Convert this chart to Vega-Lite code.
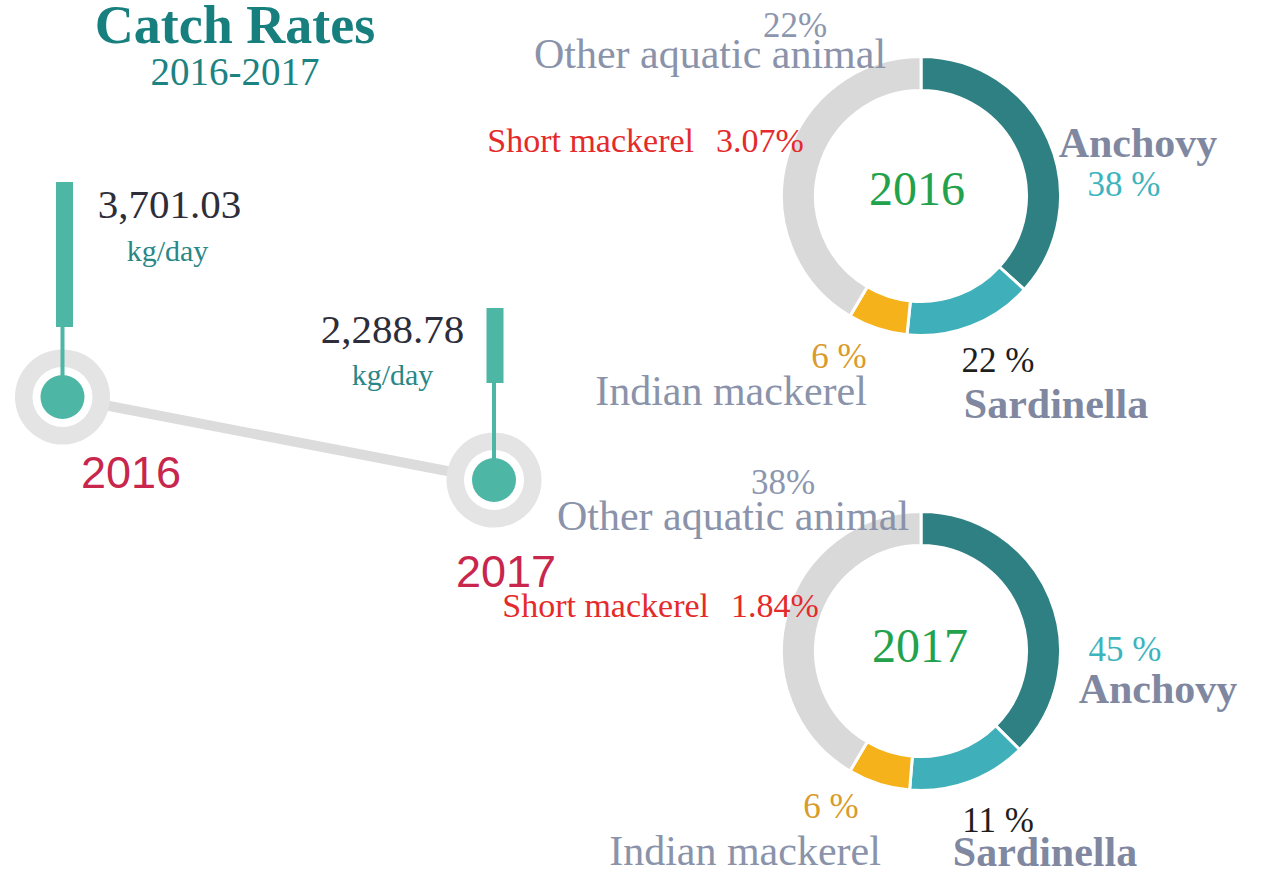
{
  "$schema": "https://vega.github.io/schema/vega-lite/v6.json",
  "background": "white",
  "padding": 0,
  "bounds": "flush",
  "spacing": 111,
  "config": {"view": {"stroke": null}},
  "datasets": {
    "rates": [
      {"year": 2016, "rate": 3701.03, "unit": "kg/day"},
      {"year": 2017, "rate": 2288.78, "unit": "kg/day"}
    ],
    "catch": [
      {"year": 2016, "rank": 1, "species": "Anchovy", "share": 36.7, "pct": "38 %"},
      {"year": 2016, "rank": 2, "species": "Sardinella", "share": 14.9, "pct": "22 %"},
      {"year": 2016, "rank": 3, "species": "Indian  mackerel", "share": 6.9, "pct": "6 %"},
      {"year": 2016, "rank": 4, "species": "Other aquatic animal", "share": 41.5, "pct": "22%"},
      {"year": 2016, "rank": 5, "species": "Short mackerel", "share": null, "pct": "3.07%"},
      {"year": 2017, "rank": 1, "species": "Anchovy", "share": 37.5, "pct": "45 %"},
      {"year": 2017, "rank": 2, "species": "Sardinella", "share": 13.8, "pct": "11 %"},
      {"year": 2017, "rank": 3, "species": "Indian  mackerel", "share": 7.2, "pct": "6 %"},
      {"year": 2017, "rank": 4, "species": "Other aquatic animal", "share": 41.5, "pct": "38%"},
      {"year": 2017, "rank": 5, "species": "Short mackerel", "share": null, "pct": "1.84%"}
    ]
  },
  "hconcat": [
    {
      "width": 470,
      "height": 776,
      "title": {
        "text": "Catch Rates",
        "subtitle": "2016-2017",
        "anchor": "middle",
        "font": "Liberation Serif",
        "fontSize": 54,
        "fontWeight": "bold",
        "color": "#177f7e",
        "subtitleFont": "Liberation Serif",
        "subtitleFontSize": 39,
        "subtitleColor": "#1c8383",
        "subtitlePadding": 0,
        "offset": 7
      },
      "data": {"name": "rates"},
      "resolve": {"scale": {"x": "independent", "y": "independent", "size": "independent"}},
      "layer": [
        {
          "mark": {"type": "line", "color": "#dcdcdc", "strokeWidth": 10},
          "encoding": {
            "x": {"field": "year", "type": "quantitative", "scale": {"domain": [2015.85516, 2016.94438], "nice": false, "zero": false}, "axis": null},
            "y": {"field": "rate", "type": "quantitative", "scale": {"domain": [-4449.3, 8754.5], "nice": false, "zero": false}, "axis": null}
          }
        },
        {
          "mark": {"type": "point", "shape": "circle", "filled": true, "color": "#e4e4e4", "opacity": 1, "size": 9025},
          "encoding": {
            "x": {"field": "year", "type": "quantitative", "scale": {"domain": [2015.85516, 2016.94438], "nice": false, "zero": false}, "axis": null},
            "y": {"field": "rate", "type": "quantitative", "scale": {"domain": [-4449.3, 8754.5], "nice": false, "zero": false}, "axis": null}
          }
        },
        {
          "mark": {"type": "point", "shape": "circle", "filled": true, "color": "#ffffff", "opacity": 1, "size": 3600},
          "encoding": {
            "x": {"field": "year", "type": "quantitative", "scale": {"domain": [2015.85516, 2016.94438], "nice": false, "zero": false}, "axis": null},
            "y": {"field": "rate", "type": "quantitative", "scale": {"domain": [-4449.3, 8754.5], "nice": false, "zero": false}, "axis": null}
          }
        },
        {
          "mark": {"type": "tick", "orient": "vertical", "thickness": 4, "color": "#4db6a4", "opacity": 1},
          "encoding": {
            "x": {"field": "year", "type": "quantitative", "scale": {"domain": [2015.85516, 2016.94438], "nice": false, "zero": false}, "axis": null},
            "y": {"field": "rate", "type": "quantitative", "scale": {"domain": [-6743.6, 9024.9], "nice": false, "zero": false}, "axis": null},
            "size": {"field": "rate", "type": "quantitative", "scale": {"domain": [2288.78, 3701.03], "range": [97, 70], "zero": false, "nice": false}, "legend": null}
          }
        },
        {
          "mark": {"type": "tick", "orient": "vertical", "thickness": 17, "color": "#4db6a4", "opacity": 1},
          "encoding": {
            "x": {"field": "year", "type": "quantitative", "scale": {"domain": [2015.85017, 2016.94192], "nice": false, "zero": false}, "axis": null},
            "y": {"field": "rate", "type": "quantitative", "scale": {"domain": [-5944.3, 6098.7], "nice": false, "zero": false}, "axis": null},
            "size": {"field": "rate", "type": "quantitative", "scale": {"domain": [2288.78, 3701.03], "range": [75, 145], "zero": false, "nice": false}, "legend": null}
          }
        },
        {
          "mark": {"type": "point", "shape": "circle", "filled": true, "color": "#4db6a4", "opacity": 1, "size": 1936},
          "encoding": {
            "x": {"field": "year", "type": "quantitative", "scale": {"domain": [2015.85516, 2016.94438], "nice": false, "zero": false}, "axis": null},
            "y": {"field": "rate", "type": "quantitative", "scale": {"domain": [-4449.3, 8754.5], "nice": false, "zero": false}, "axis": null}
          }
        },
        {
          "mark": {"type": "text", "font": "Liberation Serif", "fontSize": 41, "color": "#2e2e3a", "align": "center", "baseline": "alphabetic"},
          "encoding": {
            "x": {"field": "year", "type": "quantitative", "scale": {"domain": [2015.23991, 2017.34753], "nice": false, "zero": false}, "axis": null},
            "y": {"field": "rate", "type": "quantitative", "scale": {"domain": [-3733.1, 5034.2], "nice": false, "zero": false}, "axis": null},
            "text": {"field": "rate", "type": "quantitative", "format": ",.2f"}
          }
        },
        {
          "mark": {"type": "text", "font": "Liberation Serif", "fontSize": 30, "color": "#2a8787", "align": "center", "baseline": "alphabetic"},
          "encoding": {
            "x": {"field": "year", "type": "quantitative", "scale": {"domain": [2015.25556, 2017.34444], "nice": false, "zero": false}, "axis": null},
            "y": {"field": "rate", "type": "quantitative", "scale": {"domain": [-3303.3, 5534.7], "nice": false, "zero": false}, "axis": null},
            "text": {"field": "unit", "type": "nominal"}
          }
        },
        {
          "mark": {"type": "text", "font": "Liberation Sans", "fontSize": 45, "color": "#c8264c", "align": "center", "baseline": "alphabetic"},
          "encoding": {
            "x": {"field": "year", "type": "quantitative", "scale": {"domain": [2015.65067, 2016.904], "nice": false, "zero": false}, "axis": null},
            "y": {"field": "rate", "type": "quantitative", "scale": {"domain": [-1833.8, 9235.9], "nice": false, "zero": false}, "axis": null},
            "text": {"field": "year", "type": "quantitative", "format": "d"}
          }
        }
      ]
    },
    {
      "bounds": "flush",
      "spacing": 134,
      "vconcat": [
        {
          "width": 680,
          "height": 192,
          "data": {"name": "catch"},
          "transform": [{"filter": "datum.year == 2016"}],
          "layer": [
            {
              "transform": [{"filter": {"field": "share", "valid": true}}],
              "mark": {"type": "arc", "innerRadius": 105.5, "outerRadius": 139.5, "stroke": "white", "strokeWidth": 3},
              "encoding": {
                "theta": {"field": "share", "type": "quantitative", "stack": true},
                "order": {"field": "rank", "type": "quantitative"},
                "color": {"field": "species", "type": "nominal", "scale": {"domain": ["Anchovy", "Sardinella", "Indian  mackerel", "Other aquatic animal"], "range": ["#2e8083", "#3fb0b9", "#f6b21b", "#d9d9d9"]}, "legend": null}
              }
            },
            {
              "transform": [{"filter": {"field": "species", "equal": "Other aquatic animal"}}],
              "mark": {"type": "text", "font": "Liberation Serif", "fontSize": 35, "color": "#8c96ae", "align": "center", "baseline": "alphabetic", "dx": -126, "dy": -159},
              "encoding": {"text": {"field": "pct", "type": "nominal"}}
            },
            {
              "transform": [{"filter": {"field": "species", "equal": "Other aquatic animal"}}],
              "mark": {"type": "text", "font": "Liberation Serif", "fontSize": 42, "color": "#8a93aa", "align": "center", "baseline": "alphabetic", "dx": -211, "dy": -128},
              "encoding": {"text": {"field": "species", "type": "nominal"}}
            },
            {
              "transform": [{"filter": {"field": "species", "equal": "Short mackerel"}}],
              "mark": {"type": "text", "font": "Liberation Serif", "fontSize": 34, "color": "#e42a2a", "align": "right", "baseline": "alphabetic", "dx": -227, "dy": -44},
              "encoding": {"text": {"field": "species", "type": "nominal"}}
            },
            {
              "transform": [{"filter": {"field": "species", "equal": "Short mackerel"}}],
              "mark": {"type": "text", "font": "Liberation Serif", "fontSize": 34, "color": "#e42a2a", "align": "left", "baseline": "alphabetic", "dx": -205, "dy": -44},
              "encoding": {"text": {"field": "pct", "type": "nominal"}}
            },
            {
              "transform": [{"filter": {"field": "rank", "equal": 1}}],
              "mark": {"type": "text", "font": "Liberation Serif", "fontSize": 48, "color": "#22a24c", "align": "center", "baseline": "alphabetic", "dx": -4, "dy": 9},
              "encoding": {"text": {"field": "year", "type": "quantitative", "format": "d"}}
            },
            {
              "transform": [{"filter": {"field": "species", "equal": "Anchovy"}}],
              "mark": {"type": "text", "font": "Liberation Serif", "fontSize": 42, "fontWeight": "bold", "color": "#7f88a0", "align": "center", "baseline": "alphabetic", "dx": 217, "dy": -39},
              "encoding": {"text": {"field": "species", "type": "nominal"}}
            },
            {
              "transform": [{"filter": {"field": "species", "equal": "Anchovy"}}],
              "mark": {"type": "text", "font": "Liberation Serif", "fontSize": 35, "color": "#3db4bd", "align": "center", "baseline": "alphabetic", "dx": 203, "dy": 0},
              "encoding": {"text": {"field": "pct", "type": "nominal"}}
            },
            {
              "transform": [{"filter": {"field": "species", "equal": "Indian  mackerel"}}],
              "mark": {"type": "text", "font": "Liberation Serif", "fontSize": 35, "color": "#d99b2b", "align": "center", "baseline": "alphabetic", "dx": -82, "dy": 172},
              "encoding": {"text": {"field": "pct", "type": "nominal"}}
            },
            {
              "transform": [{"filter": {"field": "species", "equal": "Sardinella"}}],
              "mark": {"type": "text", "font": "Liberation Serif", "fontSize": 35, "color": "#1e1e1e", "align": "center", "baseline": "alphabetic", "dx": 77, "dy": 176},
              "encoding": {"text": {"field": "pct", "type": "nominal"}}
            },
            {
              "transform": [{"filter": {"field": "species", "equal": "Indian  mackerel"}}],
              "mark": {"type": "text", "font": "Liberation Serif", "fontSize": 42, "color": "#8a93aa", "align": "center", "baseline": "alphabetic", "dx": -190, "dy": 209},
              "encoding": {"text": {"field": "species", "type": "nominal"}}
            },
            {
              "transform": [{"filter": {"field": "species", "equal": "Sardinella"}}],
              "mark": {"type": "text", "font": "Liberation Serif", "fontSize": 42, "fontWeight": "bold", "color": "#7f88a0", "align": "center", "baseline": "alphabetic", "dx": 135, "dy": 222},
              "encoding": {"text": {"field": "species", "type": "nominal"}}
            }
          ]
        },
        {
          "width": 680,
          "height": 450,
          "data": {"name": "catch"},
          "transform": [{"filter": "datum.year == 2017"}],
          "layer": [
            {
              "transform": [{"filter": {"field": "share", "valid": true}}],
              "mark": {"type": "arc", "innerRadius": 105.5, "outerRadius": 139.5, "stroke": "white", "strokeWidth": 3},
              "encoding": {
                "theta": {"field": "share", "type": "quantitative", "stack": true},
                "order": {"field": "rank", "type": "quantitative"},
                "color": {"field": "species", "type": "nominal", "scale": {"domain": ["Anchovy", "Sardinella", "Indian  mackerel", "Other aquatic animal"], "range": ["#2e8083", "#3fb0b9", "#f6b21b", "#d9d9d9"]}, "legend": null}
              }
            },
            {
              "transform": [{"filter": {"field": "species", "equal": "Other aquatic animal"}}],
              "mark": {"type": "text", "font": "Liberation Serif", "fontSize": 35, "color": "#8c96ae", "align": "center", "baseline": "alphabetic", "dx": -138, "dy": -157},
              "encoding": {"text": {"field": "pct", "type": "nominal"}}
            },
            {
              "transform": [{"filter": {"field": "species", "equal": "Other aquatic animal"}}],
              "mark": {"type": "text", "font": "Liberation Serif", "fontSize": 42, "color": "#8a93aa", "align": "center", "baseline": "alphabetic", "dx": -188, "dy": -121},
              "encoding": {"text": {"field": "species", "type": "nominal"}}
            },
            {
              "transform": [{"filter": {"field": "species", "equal": "Short mackerel"}}],
              "mark": {"type": "text", "font": "Liberation Serif", "fontSize": 34, "color": "#e42a2a", "align": "right", "baseline": "alphabetic", "dx": -212, "dy": -34},
              "encoding": {"text": {"field": "species", "type": "nominal"}}
            },
            {
              "transform": [{"filter": {"field": "species", "equal": "Short mackerel"}}],
              "mark": {"type": "text", "font": "Liberation Serif", "fontSize": 34, "color": "#e42a2a", "align": "left", "baseline": "alphabetic", "dx": -190, "dy": -34},
              "encoding": {"text": {"field": "pct", "type": "nominal"}}
            },
            {
              "transform": [{"filter": {"field": "rank", "equal": 1}}],
              "mark": {"type": "text", "font": "Liberation Serif", "fontSize": 48, "color": "#22a24c", "align": "center", "baseline": "alphabetic", "dx": -1, "dy": 11},
              "encoding": {"text": {"field": "year", "type": "quantitative", "format": "d"}}
            },
            {
              "transform": [{"filter": {"field": "species", "equal": "Anchovy"}}],
              "mark": {"type": "text", "font": "Liberation Serif", "fontSize": 42, "fontWeight": "bold", "color": "#7f88a0", "align": "center", "baseline": "alphabetic", "dx": 237, "dy": 52},
              "encoding": {"text": {"field": "species", "type": "nominal"}}
            },
            {
              "transform": [{"filter": {"field": "species", "equal": "Anchovy"}}],
              "mark": {"type": "text", "font": "Liberation Serif", "fontSize": 35, "color": "#3db4bd", "align": "center", "baseline": "alphabetic", "dx": 204, "dy": 10},
              "encoding": {"text": {"field": "pct", "type": "nominal"}}
            },
            {
              "transform": [{"filter": {"field": "species", "equal": "Indian  mackerel"}}],
              "mark": {"type": "text", "font": "Liberation Serif", "fontSize": 35, "color": "#d99b2b", "align": "center", "baseline": "alphabetic", "dx": -90, "dy": 167},
              "encoding": {"text": {"field": "pct", "type": "nominal"}}
            },
            {
              "transform": [{"filter": {"field": "species", "equal": "Sardinella"}}],
              "mark": {"type": "text", "font": "Liberation Serif", "fontSize": 35, "color": "#1e1e1e", "align": "center", "baseline": "alphabetic", "dx": 77, "dy": 181},
              "encoding": {"text": {"field": "pct", "type": "nominal"}}
            },
            {
              "transform": [{"filter": {"field": "species", "equal": "Indian  mackerel"}}],
              "mark": {"type": "text", "font": "Liberation Serif", "fontSize": 42, "color": "#8a93aa", "align": "center", "baseline": "alphabetic", "dx": -176, "dy": 214},
              "encoding": {"text": {"field": "species", "type": "nominal"}}
            },
            {
              "transform": [{"filter": {"field": "species", "equal": "Sardinella"}}],
              "mark": {"type": "text", "font": "Liberation Serif", "fontSize": 42, "fontWeight": "bold", "color": "#7f88a0", "align": "center", "baseline": "alphabetic", "dx": 124, "dy": 215},
              "encoding": {"text": {"field": "species", "type": "nominal"}}
            }
          ]
        }
      ]
    }
  ]
}
